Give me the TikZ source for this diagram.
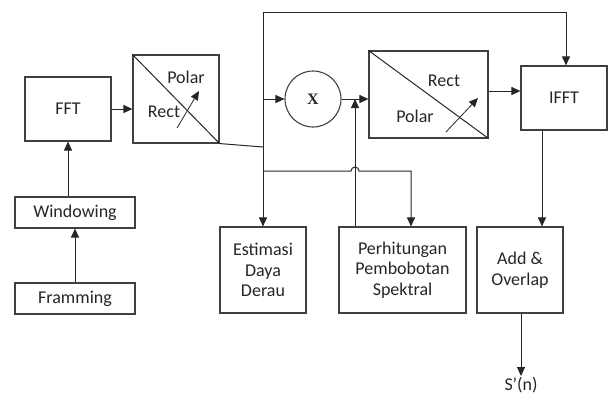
\documentclass[tikz,border=0pt]{standalone}
\usepackage{fontspec}
\setmainfont{Carlito}
\newfontfamily\serifx{Liberation Serif}
\usetikzlibrary{arrows.meta,calc}
\definecolor{boxc}{HTML}{404040}
\definecolor{txt}{HTML}{262626}
\tikzset{
  blk/.style={draw=boxc, line width=1.1pt, fill=white, inner sep=0pt, align=center, text=txt, font=\fontsize{18}{20.5}\selectfont},
  arr/.style={draw=black!85, line width=1pt, -{Triangle[length=9pt,width=8pt]}},
  ln/.style={draw=black!85, line width=1pt},
  lbl/.style={text=txt, font=\fontsize{18}{20.5}\selectfont, inner sep=0pt},
  inarr/.style={draw=black!85, line width=0.8pt, -{Triangle[length=9pt,width=8pt]}}
}
\begin{document}
\begin{tikzpicture}[x=1pt,y=-1pt]
\useasboundingbox (0,0) rectangle (609,394);
% blocks
\node[blk, minimum width=86pt, minimum height=64pt] (fft) at (68,109) {FFT};
\node[blk, minimum width=120pt, minimum height=31pt] (wind) at (75,212.5) {Windowing};
\node[blk, minimum width=120pt, minimum height=31pt] (fram) at (75,298.5) {Framming};
\node[blk, minimum width=86pt, minimum height=88pt] (conva) at (176,99) {};
\node[draw=boxc, line width=1.1pt, circle, minimum size=56pt, inner sep=0pt, text=txt] (circ) at (313,99) {\serifx\fontsize{16}{16}\selectfont\textbf{X}};
\node[blk, minimum width=119pt, minimum height=87pt] (convb) at (428.5,94.5) {};
\node[blk, minimum width=86pt, minimum height=64pt] (ifft) at (564,98) {IFFT};
\node[blk, minimum width=86pt, minimum height=86pt] (est) at (263,270) {Estimasi\\Daya\\Derau};
\node[blk, minimum width=127pt, minimum height=86pt] (perh) at (402.5,270) {Perhitungan\\Pembobotan\\Spektral};
\node[blk, minimum width=86pt, minimum height=86pt] (add) at (520,270) {Add \&\\Overlap};
\node[lbl, anchor=base] (out) at (521,390.5) {S’(n)};
% converter internals
\draw[ln] (conva.north west) -- (conva.south east);
\node[lbl] (pa) at (186,77) {Polar};
\node[lbl] (ra) at (164,112) {Rect};
\coordinate (aa1) at (177,128);
\coordinate (aa2) at (199,91);
\draw[inarr] (aa1) -- (aa2);
\draw[ln] (convb.north west) -- (convb.south east);
\node[lbl] (rb) at (444,81) {Rect};
\node[lbl] (pb) at (415,116) {Polar};
\coordinate (ab1) at (446,132);
\coordinate (ab2) at (478,98);
\draw[inarr] (ab1) -- (ab2);
% coordinates
\coordinate (tl) at (263,12);
\coordinate (jb) at (263,147);
\coordinate (jc) at (263,171);
\coordinate (hop) at (355,171);
\coordinate (pin) at (411,171);
\coordinate (up) at (355,99);
% connectors
\draw[arr] (fram.north) -- (wind.south);
\draw[arr] (wind.north -| fft.south) -- (fft.south);
\draw[arr] (fft.east) -- (fft.east -| conva.west);
\draw[ln] (conva.south east) -- (jb);
\draw[arr] (tl) -- (est.north);
\draw[arr] (tl) -| ([xshift=2pt]ifft.north);
\draw[arr] (tl |- circ.west) -- (circ.west);
\draw[arr] (jc) -- ([xshift=-4pt]hop) arc[start angle=180, end angle=0, radius=4pt] -- (pin) -- (pin |- perh.north);
\draw[arr] (up |- perh.north) -- (up);
\draw[arr] (circ.east) -- (circ.east -| convb.west);
\draw[arr] ([yshift=3.5pt]convb.east) -- ([yshift=3.5pt]convb.east -| ifft.west);
\draw[arr] ([xshift=-22pt]ifft.south) -- ([xshift=-22pt]ifft.south |- add.north);
\draw[arr] ([xshift=1pt]add.south) -- ([xshift=1pt]add.south |- 0,376);
\end{tikzpicture}
\end{document}
